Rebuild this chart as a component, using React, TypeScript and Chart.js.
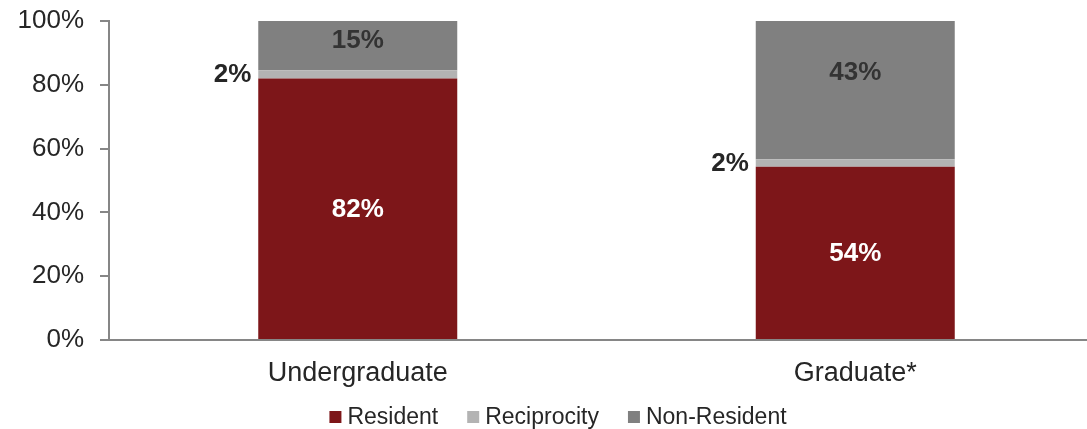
import React, { useEffect, useRef } from 'react';
import { Chart, registerables } from 'chart.js';

Chart.register(...registerables);

const categories = ['Undergraduate', 'Graduate*'];
const seriesNames = ['Resident', 'Reciprocity', 'Non-Resident'];
const residentValues = [82.0, 54.3];
const reciprocityValues = [2.6, 2.4];
const nonResidentValues = [15.4, 43.3];
const residentLabels = ['82%', '54%'];
const reciprocityLabels = ['2%', '2%'];
const nonResidentLabels = ['15%', '43%'];
const yTickValues = [0, 20, 40, 60, 80, 100];

const FONT = '"Liberation Sans", Arial, Helvetica, sans-serif';
const TEXT = '#262626';
const AXIS = '#868686';
const COLORS = ['#7D1619', '#B3B3B3', '#808080'];

const segmentLabels = [residentLabels, reciprocityLabels, nonResidentLabels];

const labelPlugin = {
  id: 'segmentLabels',
  afterDatasetsDraw(chart: any) {
    const ctx = chart.ctx;
    ctx.save();
    ctx.font = `bold 26px ${FONT}`;
    ctx.textBaseline = 'middle';
    chart.data.datasets.forEach((_ds: any, di: number) => {
      const meta = chart.getDatasetMeta(di);
      meta.data.forEach((bar: any, i: number) => {
        const { x, y, base, width } = bar.getProps(['x', 'y', 'base', 'width'], true);
        const text = segmentLabels[di][i];
        if (di === 0) {
          ctx.fillStyle = '#FFFFFF';
          ctx.textAlign = 'center';
          ctx.fillText(text, x, (y + base) / 2 + 1);
        } else if (di === 1) {
          ctx.fillStyle = TEXT;
          ctx.textAlign = 'right';
          ctx.fillText(text, x - width / 2 - 7, (y + base) / 2 + 1);
        } else {
          ctx.fillStyle = '#333333';
          ctx.textAlign = 'center';
          ctx.fillText(text, x, y + 0.36 * (base - y) + 2);
        }
      });
    });
    ctx.restore();
  },
};

// Legend drawn on the canvas from the chart's datasets
const legendPlugin = {
  id: 'bottomLegend',
  afterDraw(chart: any) {
    const ctx = chart.ctx;
    const box = 12;
    const boxGap = 6;
    const itemGap = 29;
    ctx.save();
    ctx.font = `23px ${FONT}`;
    ctx.textBaseline = 'middle';
    ctx.textAlign = 'left';
    const items = chart.data.datasets.map((ds: any) => ({
      text: ds.label,
      color: ds.backgroundColor,
      w: ctx.measureText(ds.label).width,
    }));
    const total =
      items.reduce((s: number, it: any) => s + box + boxGap + it.w, 0) + itemGap * (items.length - 1);
    const cx = (chart.options.layout.padding.left + chart.chartArea.right) / 2;
    const cy = chart.chartArea.bottom + 77;
    let x = cx - total / 2;
    items.forEach((it: any) => {
      ctx.fillStyle = it.color;
      ctx.fillRect(x, cy - box / 2, box, box);
      x += box + boxGap;
      ctx.fillStyle = TEXT;
      ctx.fillText(it.text, x, cy + 1);
      x += it.w + itemGap;
    });
    ctx.restore();
  },
};

export default function App() {
  const ref = useRef<HTMLCanvasElement | null>(null);

  useEffect(() => {
    if (!ref.current) return;
    const values = [residentValues, reciprocityValues, nonResidentValues];
    const chart = new Chart(ref.current, {
      type: 'bar',
      data: {
        labels: categories,
        datasets: seriesNames.map((name, i) => ({
          label: name,
          data: values[i],
          backgroundColor: COLORS[i],
          borderWidth: 0,
          barPercentage: 0.4,
          categoryPercentage: 1,
        })),
      },
      options: {
        animation: false,
        responsive: true,
        maintainAspectRatio: false,
        layout: { padding: { top: 21, right: 6, bottom: 29, left: 12 } },
        plugins: {
          tooltip: { enabled: false },
          legend: { display: false },
        },
        scales: {
          x: {
            stacked: true,
            grid: { display: false },
            border: { display: true, color: AXIS, width: 2 },
            ticks: { color: TEXT, padding: 9.5, font: { family: FONT, size: 27 } },
            afterFit: (s: any) => {
              s.height = 60;
            },
          },
          y: {
            stacked: true,
            min: 0,
            max: 100,
            afterBuildTicks: (s: any) => {
              s.ticks = yTickValues.map((v) => ({ value: v }));
            },
            grid: {
              drawOnChartArea: false,
              drawTicks: true,
              tickLength: 9,
              color: AXIS,
              lineWidth: 2,
            },
            border: { display: true, color: AXIS, width: 2 },
            ticks: {
              color: TEXT,
              padding: 16,
              font: { family: FONT, size: 26, lineHeight: '10px' },
              callback: (v: any) => `${v}%`,
            },
            afterFit: (s: any) => {
              s.width = 97;
            },
          },
        },
      },
      plugins: [labelPlugin, legendPlugin],
    });
    return () => chart.destroy();
  }, []);

  return (
    <div
      style={{
        position: 'fixed',
        left: 0,
        top: 0,
        width: 1087,
        height: 429,
        overflow: 'hidden',
        background: '#FFFFFF',
      }}
    >
      <div style={{ position: 'relative', width: 1110, height: 429 }}>
        <canvas ref={ref} />
      </div>
    </div>
  );
}
